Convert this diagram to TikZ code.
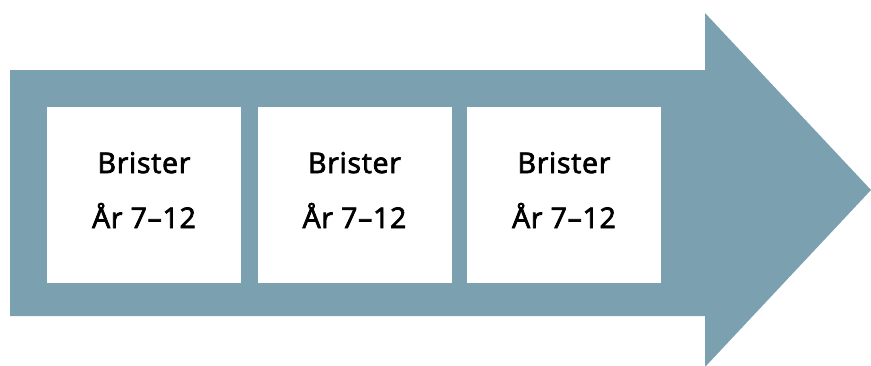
\documentclass[tikz,border=0pt]{standalone}
\usepackage{fontspec}
\setmainfont{Open Sans}[FakeBold=2.6,LetterSpace=2.5]
\usetikzlibrary{calc}
\definecolor{arrowblue}{RGB}{123,160,176}
\tikzset{
  bigarrow/.style={fill=arrowblue, draw=none},
  box/.style={fill=white, draw=none, minimum width=194pt, minimum height=176pt, inner sep=0pt, outer sep=0pt},
  lbl/.style={font=\fontsize{28.5}{34}\selectfont, text=black, inner sep=0pt, anchor=base}
}
\begin{document}
\begin{tikzpicture}[x=1pt,y=-1pt]
\useasboundingbox (0,0) rectangle (871,365);
\fill[bigarrow] (10,70) -- (705,70) -- (705,13) -- (871,190) -- (705,367) -- (705,316) -- (10,316) -- cycle;
\node[box] (b1) at (144,195) {};
\node[box] (b2) at (354.5,195) {};
\node[box] (b3) at (564,195) {};
\foreach \b in {b1,b2,b3}{
  \node[lbl] (\b t1) at ($(\b.center)+(0,-22)$) {Brister};
  \node[lbl] (\b t2) at ($(\b.center)+(0,33)$) {År 7–12};
}
\end{tikzpicture}
\end{document}
